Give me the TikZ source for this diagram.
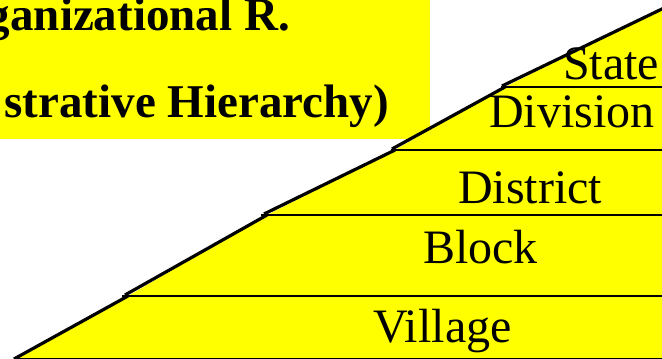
\documentclass[tikz,border=0pt]{standalone}
\usepackage{fontspec}
\setmainfont{Liberation Serif}
\definecolor{yel}{RGB}{255,255,0}
\begin{document}
\begin{tikzpicture}[x=1pt,y=-1pt,
  edge/.style={line width=3.2pt},
  hline/.style={line width=2.9pt},
  lbl/.style={font=\fontsize{48}{48}\selectfont, anchor=base west, inner sep=0pt},
  ttl/.style={font=\fontsize{47}{47}\selectfont\bfseries, anchor=base east, inner sep=0pt}]
\useasboundingbox (0,0) rectangle (662,359);
\begin{scope}
\clip (0,0) rectangle (662,359);
% title box
\fill[yel] (0,0) rectangle (430,139);
\node[ttl] (t1) at (290,30) {ganizational R.};
\node[ttl] (t2) at (389,117) {strative Hierarchy)};
% pyramid
\coordinate (p0) at (14,359);
\coordinate (p1) at (128,296);
\coordinate (p2) at (267,215);
\coordinate (p3) at (395,150);
\coordinate (p4) at (505,87);
\coordinate (p5) at (664,8);
\fill[yel] (p0) -- (p1) -- (p2) -- (p3) -- (p4) -- (p5) -- (664,359) -- cycle;
\draw[edge] (p0) -- (p1);
\draw[edge] ([xshift=-3pt,yshift=1pt]p1) -- (p2);
\draw[edge] ([xshift=-3pt,yshift=1pt]p2) -- (p3);
\draw[edge] ([xshift=-3pt,yshift=1pt]p3) -- (p4);
\draw[edge] ([xshift=-3pt,yshift=1pt]p4) -- (p5);
\draw[hline] ([xshift=-6pt]p1) -- (664,296);
\draw[hline] ([xshift=-6pt]p2) -- (664,215);
\draw[hline] ([xshift=-4pt]p3) -- (664,150);
\draw[hline] ([xshift=-4pt]p4) -- (664,87);
\draw[hline] (p0) -- (664,359);
% labels
\node[lbl] (state) at (563,79) {State};
\node[lbl] (division) at (489,127) {Division};
\node[lbl] (district) at (458,203) {District};
\node[lbl] (block) at (423,263) {Block};
\node[lbl] (village) at (373,342) {Village};
\end{scope}
\end{tikzpicture}
\end{document}
